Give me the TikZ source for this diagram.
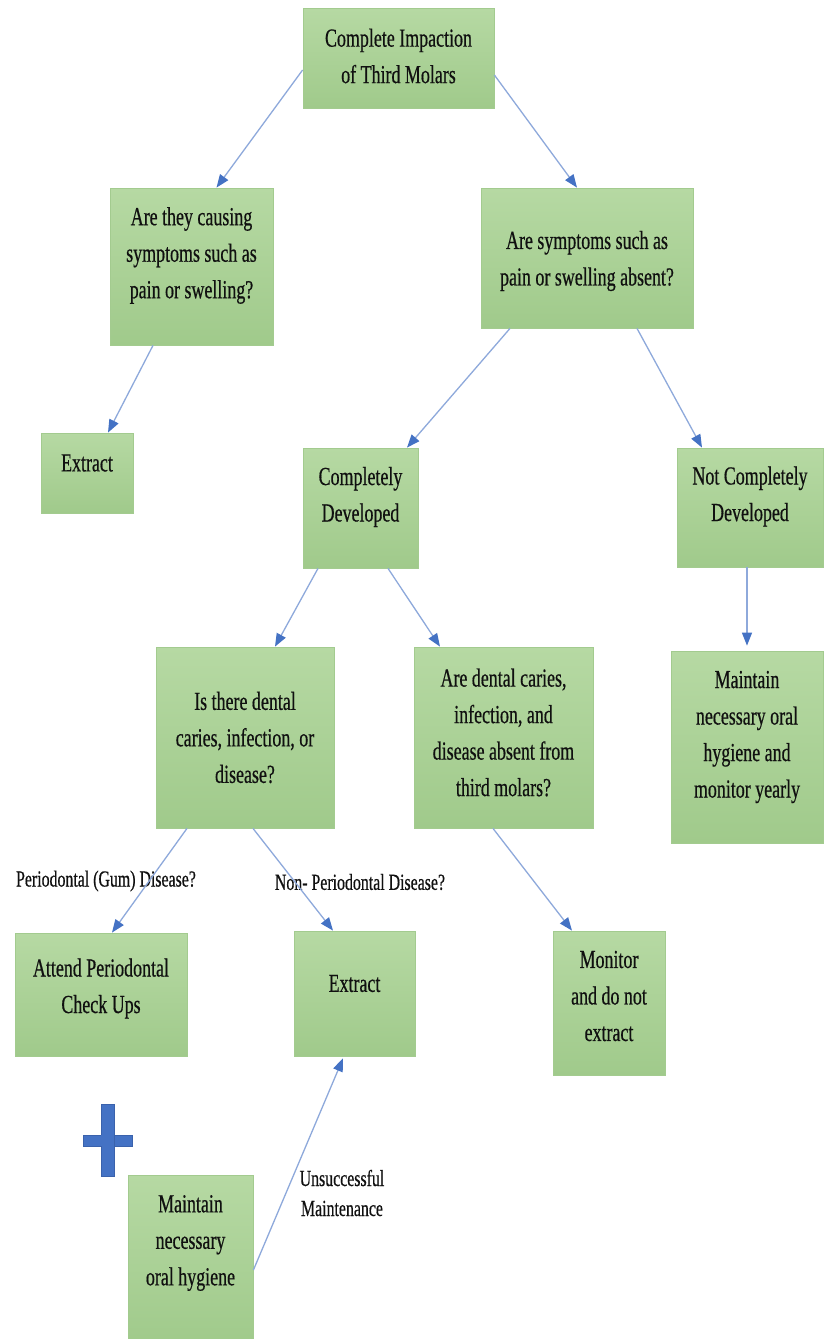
\documentclass[tikz,border=0pt]{standalone}
\usepackage{fontspec}
\setmainfont{Liberation Serif}[FakeStretch=0.69,FakeBold=0.5]
\usetikzlibrary{arrows.meta}
\definecolor{boxtop}{HTML}{B6D9A3}
\definecolor{boxbot}{HTML}{A0CA8B}
\definecolor{boxline}{HTML}{A3CB8F}
\definecolor{lineblue}{HTML}{8EA9DB}
\definecolor{tipblue}{HTML}{4472C4}
\definecolor{plusline}{HTML}{3A62AC}
\definecolor{ink}{HTML}{101010}
\begin{document}
\begin{tikzpicture}[x=1pt,y=-1pt,
  box/.style={rectangle, draw=boxline, line width=0.8pt, top color=boxtop, bottom color=boxbot, inner sep=0pt},
  txt/.style={align=center, text=ink, inner sep=0pt, font=\fontsize{26}{36.5}\selectfont},
  lbl/.style={align=center, text=ink, inner sep=0pt, font=\fontsize{23}{30}\selectfont},
  arr/.style={draw=lineblue, line width=1.3pt, -{Triangle[length=13pt,width=10pt,color=tipblue]}}
]
\useasboundingbox (0,0) rectangle (830,1339);
\fill[white] (0,0) rectangle (830,1339);
\clip (0,0) rectangle (830,1339);

% boxes
\node[box, minimum width=191pt, minimum height=100pt] (n1) at (398.5,58) {};
\node[txt] (t1) at ([yshift=2pt]n1.center) {Complete Impaction\\of Third Molars};

\node[box, minimum width=163pt, minimum height=157pt] (n2) at (191.5,266.5) {};
\node[txt] (t2) at ([yshift=11pt]n2.center) {Are they causing\\symptoms such as\\pain or swelling?};

\node[box, minimum width=212pt, minimum height=140pt] (n3) at (587,258) {};
\node[txt] (t3) at ([yshift=-3pt]n3.center) {Are symptoms such as\\pain or swelling absent?};

\node[box, minimum width=92pt, minimum height=80pt] (n4) at (87,473) {};
\node[txt] (t4) at ([yshift=10pt]n4.center) {Extract};

\node[box, minimum width=115pt, minimum height=120pt] (n5) at (360.5,508) {};
\node[txt] (t5) at ([yshift=11pt]n5.center) {Completely\\Developed};

\node[box, minimum width=146pt, minimum height=119pt] (n6) at (750,507.5) {};
\node[txt] (t6) at ([yshift=11pt]n6.center) {Not Completely\\Developed};

\node[box, minimum width=178pt, minimum height=181pt] (n7) at (245,737.5) {};
\node[txt] (t7) at (n7.center) {Is there dental\\caries, infection, or\\disease?};

\node[box, minimum width=179pt, minimum height=181pt] (n8) at (503.5,737.5) {};
\node[txt] (t8) at ([yshift=5pt]n8.center) {Are dental caries,\\infection, and\\disease absent from\\third molars?};

\node[box, minimum width=152pt, minimum height=192pt] (n9) at (747,747) {};
\node[txt] (t9) at ([yshift=10pt]n9.center) {Maintain\\necessary oral\\hygiene and\\monitor yearly};

\node[box, minimum width=172pt, minimum height=123pt] (n10) at (101,994.5) {};
\node[txt] (t10) at ([yshift=6pt]n10.center) {Attend Periodontal\\Check Ups};

\node[box, minimum width=121pt, minimum height=125pt] (n11) at (354.5,993.5) {};
\node[txt] (t11) at ([yshift=10pt]n11.center) {Extract};

\node[box, minimum width=112pt, minimum height=144pt] (n12) at (609,1003) {};
\node[txt] (t12) at ([yshift=7pt]n12.center) {Monitor\\and do not\\extract};

\node[box, minimum width=125pt, minimum height=170pt] (n13) at (190.5,1260) {};
\node[txt] (t13) at ([yshift=17pt]n13.center) {Maintain\\necessary\\oral hygiene};

% plus sign
\fill[tipblue, draw=plusline, line width=0.6pt] (83,1135) rectangle (132,1146);
\fill[tipblue, draw=plusline, line width=0.6pt] (101,1104) rectangle (114,1176);
\fill[tipblue] (101.4,1135.4) rectangle (113.6,1145.6);

% labels
\node[lbl] (l1) at (106,881) {Periodontal (Gum) Disease?};
\node[lbl] (l2) at (360,882) {Non- Periodontal Disease?};
\node[lbl] (l3) at (342,1193) {Unsuccessful\\Maintenance};

% connectors
\draw[arr] ([yshift=-12pt]n1.west) -- ([xshift=25pt]n2.north);
\draw[arr] ([yshift=-17pt]n1.east) -- ([xshift=-10pt]n3.north);
\draw[arr] ([xshift=-38.5pt]n2.south) -- ([xshift=21pt]n4.north);
\draw[arr] ([xshift=-77pt]n3.south) -- ([xshift=46.5pt]n5.north);
\draw[arr] ([xshift=50pt]n3.south) -- ([xshift=-48pt]n6.north);
\draw[arr] ([xshift=-3pt]n6.south) -- ([yshift=5pt]n9.north);
\draw[arr] ([xshift=-42.5pt]n5.south) -- ([xshift=30pt]n7.north);
\draw[arr] ([xshift=27.5pt]n5.south) -- ([xshift=-63.5pt]n8.north);
\draw[arr] ([xshift=-58pt]n7.south) -- ([xshift=11pt]n10.north);
\draw[arr] ([xshift=8pt]n7.south) -- ([xshift=-21.5pt]n11.north);
\draw[arr] ([xshift=-10.5pt]n8.south) -- ([xshift=-37pt]n12.north);
\draw[arr] ([yshift=-10pt]n13.east) -- ([xshift=-11.5pt,yshift=-2pt]n11.south);
\end{tikzpicture}
\end{document}
